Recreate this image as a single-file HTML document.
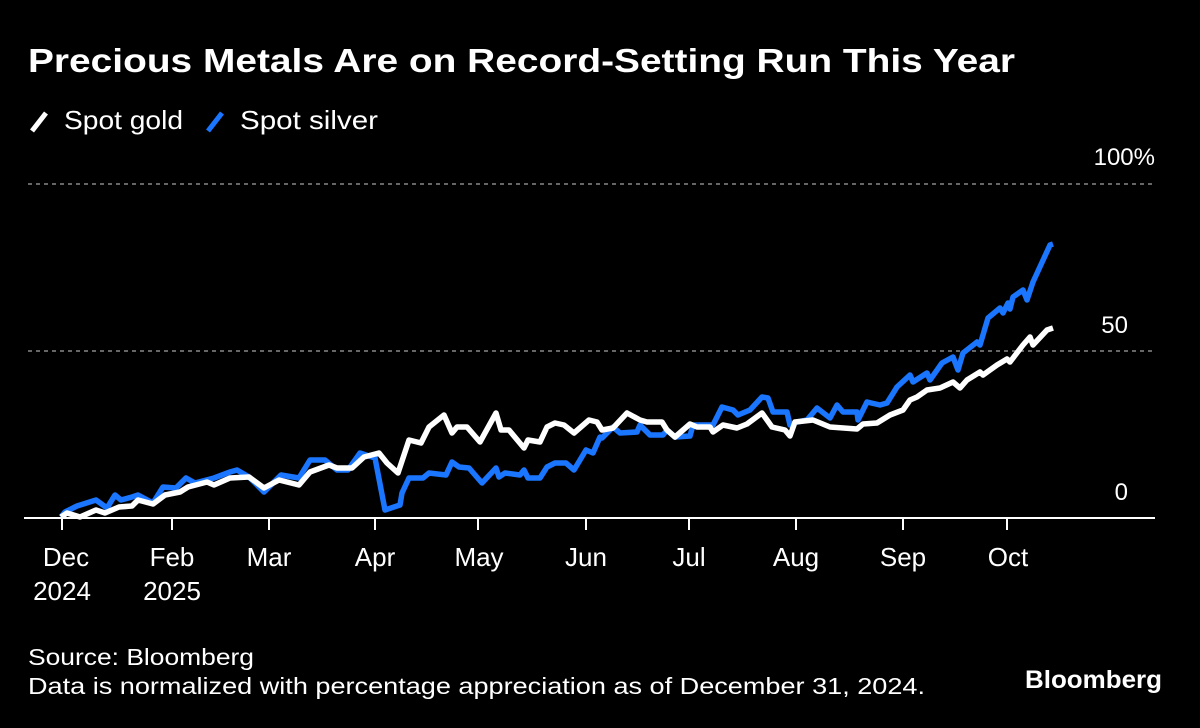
<!DOCTYPE html>
<html><head><style>
body{margin:0;background:#000;width:1200px;height:723px;overflow:hidden;font-family:"Liberation Sans",sans-serif;color:#fff}
</style></head><body>
<svg width="1200" height="723" xmlns="http://www.w3.org/2000/svg" font-family="Liberation Sans, sans-serif">
<rect width="1200" height="723" fill="#000"/>
<text x="28" y="72" font-size="33" font-weight="bold" fill="#fff" textLength="987" lengthAdjust="spacingAndGlyphs">Precious Metals Are on Record-Setting Run This Year</text>
<line x1="32" y1="131" x2="46" y2="113" stroke="#fff" stroke-width="5"/>
<text x="64" y="129" font-size="26" fill="#fff" textLength="119" lengthAdjust="spacingAndGlyphs">Spot gold</text>
<line x1="208" y1="131" x2="222" y2="113" stroke="#1a75ff" stroke-width="5"/>
<text x="240" y="129" font-size="26" fill="#fff" textLength="138" lengthAdjust="spacingAndGlyphs">Spot silver</text>
<line x1="28" y1="184" x2="1155" y2="184" stroke="#888" stroke-width="1.5" stroke-dasharray="4,4"/>
<line x1="28" y1="351" x2="1155" y2="351" stroke="#888" stroke-width="1.5" stroke-dasharray="4,4"/>
<text x="1155" y="165" font-size="24" fill="#fff" text-anchor="end">100%</text>
<text x="1128" y="333" font-size="24" fill="#fff" text-anchor="end">50</text>
<text x="1128" y="500" font-size="24" fill="#fff" text-anchor="end">0</text>
<line x1="24" y1="518" x2="1155" y2="518" stroke="#fff" stroke-width="2"/>
<g stroke="#fff" stroke-width="2">
<line x1="62" y1="518" x2="62" y2="530"/><line x1="172" y1="518" x2="172" y2="530"/><line x1="269" y1="518" x2="269" y2="530"/><line x1="375" y1="518" x2="375" y2="530"/><line x1="478" y1="518" x2="478" y2="530"/><line x1="586" y1="518" x2="586" y2="530"/><line x1="689" y1="518" x2="689" y2="530"/><line x1="796" y1="518" x2="796" y2="530"/><line x1="903" y1="518" x2="903" y2="530"/><line x1="1007" y1="518" x2="1007" y2="530"/>
</g>
<g font-size="26" fill="#fff" text-anchor="middle">
<text x="66" y="566">Dec</text><text x="62" y="600">2024</text>
<text x="172" y="566">Feb</text><text x="172" y="600">2025</text>
<text x="269" y="566">Mar</text><text x="375" y="566">Apr</text><text x="479" y="566">May</text><text x="586" y="566">Jun</text><text x="689" y="566">Jul</text><text x="796" y="566">Aug</text><text x="903" y="566">Sep</text><text x="1008" y="566">Oct</text>
</g>
<polyline fill="none" stroke="#1a75ff" stroke-width="5.5" stroke-linejoin="round" points="61,517 65,512 77,506 96,500 107,508 115,495 121,500 132,497 138,495 153,503 163,487 176,488 186,478 195,483 214,478 230,472 237,470 249,477 264,492 281,475 299,478 310,460 325,460 337,470 348,470 360,453 375,458 385,510 400,505 402,493 409,478 423,478 429,473 446,475 452,462 459,467 469,468 482,483 496,468 499,477 505,473 520,475 524,470 528,478 540,478 547,467 555,463 566,463 574,470 586,450 593,453 600,437 602,438 613,427 620,433 637,432 640,425 650,435 663,435 667,430 675,437 690,436 693,425 713,425 722,407 733,410 738,415 750,410 762,397 768,398 773,412 787,412 790,425 797,422 807,420 817,408 830,418 837,405 843,412 857,412 858,420 867,402 880,405 887,403 897,387 910,375 913,382 927,373 930,380 942,363 953,357 958,370 963,353 977,342 980,345 988,318 1000,308 1003,313 1008,303 1010,309 1013,297 1023,290 1027,300 1033,282 1050,245 1053,244"/>
<polyline fill="none" stroke="#fff" stroke-width="5.5" stroke-linejoin="round" points="61,517 67,513 80,517 96,510 105,513 119,507 132,506 138,500 153,504 165,495 180,492 188,487 207,482 214,485 230,478 249,477 264,488 279,480 299,485 310,472 329,465 337,468 352,468 364,457 379,453 387,463 398,473 409,440 421,443 429,427 444,415 452,433 457,427 467,427 480,442 496,413 501,430 509,430 524,448 528,440 540,442 547,427 555,423 564,425 574,433 589,420 597,422 602,430 613,428 627,413 640,420 647,422 662,422 667,430 675,437 690,424 697,427 710,427 713,432 723,425 737,428 747,424 762,413 772,427 785,430 790,436 795,422 813,420 830,427 857,429 863,424 877,423 890,415 903,410 910,400 917,397 927,390 940,388 953,382 960,388 967,380 980,372 983,375 997,365 1007,359 1010,362 1023,345 1030,337 1033,345 1047,330 1053,328"/>
<text x="28" y="665" font-size="23" fill="#fff" textLength="226" lengthAdjust="spacingAndGlyphs">Source: Bloomberg</text>
<text x="28" y="694" font-size="23" fill="#fff" textLength="897" lengthAdjust="spacingAndGlyphs">Data is normalized with percentage appreciation as of December 31, 2024.</text>
<text x="1025" y="688" font-size="25" font-weight="bold" fill="#fff" textLength="137" lengthAdjust="spacingAndGlyphs">Bloomberg</text>
</svg>
</body></html>
